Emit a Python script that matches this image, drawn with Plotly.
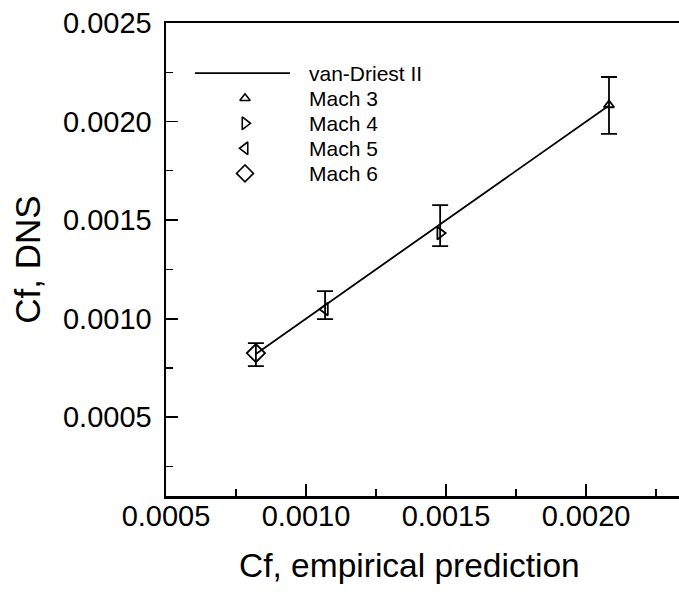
import plotly.graph_objects as go

# ---- data ----
series_names = ["Mach 3", "Mach 4", "Mach 5", "Mach 6"]
cf_empirical = [0.002082, 0.001479, 0.001068, 0.000821]
cf_dns = [0.002084, 0.001434, 0.001048, 0.000825]
err_plus = [0.000142, 0.000142, 0.000092, 0.000051]
err_minus = [0.000147, 0.000066, 0.000051, 0.000066]
vd_x = [0.000821, 0.001068, 0.001479, 0.002082]
vd_y = [0.000821, 0.001068, 0.001479, 0.002082]
line_name = "van-Driest II"
x_title = "Cf, empirical prediction"
y_title = "Cf, DNS"

symbols = ["triangle-up-open", "triangle-right-open", "triangle-left-open", "diamond-open"]
sizes = [9, 11, 11, 14]
legend_sizes = [9, 11, 11, 13]

FONT = "Liberation Sans, Arial, sans-serif"

fig = go.Figure()

fig.add_trace(go.Scatter(x=vd_x, y=vd_y, mode="lines",
                         line=dict(color="black", width=1.8),
                         showlegend=False, hoverinfo="skip"))

for i, name in enumerate(series_names):
    fig.add_trace(go.Scatter(
        x=[cf_empirical[i]], y=[cf_dns[i]], mode="markers", name=name,
        marker=dict(symbol=symbols[i], size=sizes[i], color="black",
                    line=dict(color="black", width=1.8)),
        error_y=dict(type="data", symmetric=False, array=[err_plus[i]],
                     arrayminus=[err_minus[i]], color="black",
                     thickness=1.8, width=8),
        showlegend=False, hoverinfo="skip"))

# ---- manual legend (overlay axes in plot-fraction units) ----
leg_line_x = [0.0565, 0.2417]
leg_y0 = 0.894
leg_dy = 0.053
leg_marker_x = 0.154
leg_text_x = 0.274

fig.add_trace(go.Scatter(x=leg_line_x, y=[leg_y0, leg_y0], mode="lines",
                         line=dict(color="black", width=1.8),
                         xaxis="x2", yaxis="y2", showlegend=False, hoverinfo="skip"))
fig.add_annotation(x=leg_text_x, y=leg_y0, xref="paper", yref="paper",
                   text=line_name, showarrow=False, xanchor="left", yanchor="middle",
                   font=dict(size=21, color="black", family=FONT))
for i, name in enumerate(series_names):
    yy = leg_y0 - leg_dy * (i + 1)
    fig.add_trace(go.Scatter(x=[leg_marker_x], y=[yy], mode="markers",
                             marker=dict(symbol=symbols[i], size=legend_sizes[i], color="black",
                                         line=dict(color="black", width=1.6)),
                             xaxis="x2", yaxis="y2", showlegend=False, hoverinfo="skip"))
    fig.add_annotation(x=leg_text_x, y=yy, xref="paper", yref="paper",
                       text=name, showarrow=False, xanchor="left", yanchor="middle",
                       font=dict(size=21, color="black", family=FONT))

# x-axis title (placed to match the original's off-centre position)
fig.add_annotation(x=0.4737, y=-0.1036, xref="paper", yref="paper",
                   text=x_title, showarrow=False, xanchor="center", yanchor="top",
                   font=dict(size=33.5, color="black", family=FONT))

axis_common = dict(
    showgrid=False, zeroline=False, showline=True, linecolor="black", linewidth=2.5,
    ticks="inside", ticklen=12, tickwidth=1.8, tickcolor="black",
    tickformat=".4f", dtick=0.0005, tick0=0.0005, automargin=False,
    tickfont=dict(size=29, color="black", family=FONT),
    minor=dict(ticks="inside", ticklen=7, tickwidth=1.3, tickcolor="black",
               dtick=0.00025, tick0=0.00025, showgrid=False),
)

fig.update_layout(
    width=679, height=592,
    margin=dict(l=166, r=0, t=23, b=96, autoexpand=False),
    paper_bgcolor="white", plot_bgcolor="white",
    font=dict(family=FONT, color="black"),
    showlegend=False, hovermode=False,
    xaxis=dict(range=[0.0005, 0.002332], mirror=True,
               ticklabelstandoff=-7, **axis_common),
    yaxis=dict(range=[0.0001, 0.0025001], mirror=False,
               title=dict(text=y_title, font=dict(size=35, family=FONT, color="black"),
                          standoff=12),
               ticklabelstandoff=6, **axis_common),
    xaxis2=dict(overlaying="x", range=[0, 1], visible=False, showline=False, zeroline=False, showgrid=False),
    yaxis2=dict(overlaying="y", range=[0, 1], visible=False, showline=False, zeroline=False, showgrid=False),
)

fig.write_html("out.html", config={"displayModeBar": False, "staticPlot": True},
               post_script="document.body.style.margin='0';document.body.style.overflow='hidden';")
